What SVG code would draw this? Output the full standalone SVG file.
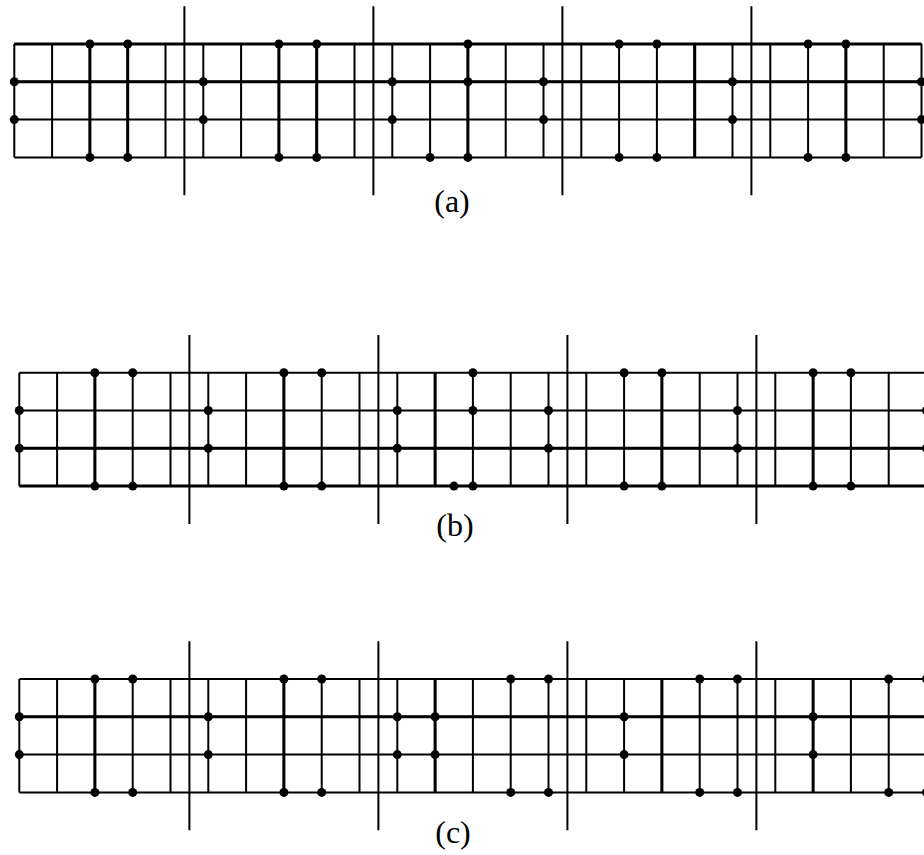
<svg xmlns="http://www.w3.org/2000/svg" width="924" height="855" viewBox="0 0 924 855">
<style>
.ln{stroke:#000;stroke-width:2;fill:none;stroke-linecap:butt}
.tk{stroke:#000;stroke-width:3;fill:none}
.dot{fill:#000}
.lbl{font-family:"Liberation Serif","DejaVu Serif",serif;font-size:32px;fill:#000;text-anchor:middle}
</style>
<defs>
<g id="grid">
<line class="ln" x1="0" y1="0" x2="907.2" y2="0"/>
<line class="ln" x1="0" y1="37.8" x2="907.2" y2="37.8"/>
<line class="ln" x1="0" y1="75.6" x2="907.2" y2="75.6"/>
<line class="ln" x1="0" y1="113.4" x2="907.2" y2="113.4"/>
<path class="ln" d="M0,0V113.4M37.8,0V113.4M75.6,0V113.4M113.4,0V113.4M151.2,0V113.4M189,0V113.4M226.8,0V113.4M264.6,0V113.4M302.4,0V113.4M340.2,0V113.4M378,0V113.4M415.8,0V113.4M453.6,0V113.4M491.4,0V113.4M529.2,0V113.4M567,0V113.4M604.8,0V113.4M642.6,0V113.4M680.4,0V113.4M718.2,0V113.4M756,0V113.4M793.8,0V113.4M831.6,0V113.4M869.4,0V113.4M907.2,0V113.4"/>
<path class="ln" d="M170.1,-37.8V151.2M359.1,-37.8V151.2M548.1,-37.8V151.2M737.1,-37.8V151.2"/>
</g>
</defs>

<!-- Panel (a) -->
<g id="panel-a" transform="translate(14.3,44)">
<use href="#grid"/>
<g id="a-connectors">
<path class="tk" d="M0,0H907.2M0,37.8H907.2"/>
<path class="tk" d="M75.6,0V113.4M113.4,0V113.4M264.6,0V113.4M302.4,0V113.4M453.6,0V113.4M680.4,0V113.4M831.6,0V113.4"/>
</g>
<g id="a-nodes">
<g id="a-s0"><circle class="dot" cx="0" cy="37.8" r="4.5"/><circle class="dot" cx="0" cy="75.6" r="4.5"/><circle class="dot" cx="75.6" cy="0" r="4.5"/><circle class="dot" cx="75.6" cy="113.4" r="4.5"/><circle class="dot" cx="113.4" cy="0" r="4.5"/><circle class="dot" cx="113.4" cy="113.4" r="4.5"/></g>
<g id="a-s1"><circle class="dot" cx="189" cy="37.8" r="4.5"/><circle class="dot" cx="189" cy="75.6" r="4.5"/><circle class="dot" cx="264.6" cy="0" r="4.5"/><circle class="dot" cx="264.6" cy="113.4" r="4.5"/><circle class="dot" cx="302.4" cy="0" r="4.5"/><circle class="dot" cx="302.4" cy="113.4" r="4.5"/></g>
<g id="a-s2"><circle class="dot" cx="378" cy="37.8" r="4.5"/><circle class="dot" cx="378" cy="75.6" r="4.5"/><circle class="dot" cx="415.8" cy="113.4" r="4.5"/><circle class="dot" cx="453.6" cy="0" r="4.5"/><circle class="dot" cx="453.6" cy="37.8" r="4.5"/><circle class="dot" cx="453.6" cy="113.4" r="4.5"/><circle class="dot" cx="529.2" cy="37.8" r="4.5"/><circle class="dot" cx="529.2" cy="75.6" r="4.5"/></g>
<g id="a-s3"><circle class="dot" cx="604.8" cy="0" r="4.5"/><circle class="dot" cx="604.8" cy="113.4" r="4.5"/><circle class="dot" cx="642.6" cy="0" r="4.5"/><circle class="dot" cx="642.6" cy="113.4" r="4.5"/><circle class="dot" cx="718.2" cy="37.8" r="4.5"/><circle class="dot" cx="718.2" cy="75.6" r="4.5"/></g>
<g id="a-s4"><circle class="dot" cx="793.8" cy="0" r="4.5"/><circle class="dot" cx="793.8" cy="113.4" r="4.5"/><circle class="dot" cx="831.6" cy="0" r="4.5"/><circle class="dot" cx="831.6" cy="113.4" r="4.5"/><circle class="dot" cx="907.2" cy="37.8" r="4.5"/><circle class="dot" cx="907.2" cy="75.6" r="4.5"/></g>
</g>
</g>
<text id="label-a" class="lbl" x="452" y="212">(a)</text>

<!-- Panel (b) -->
<g id="panel-b" transform="translate(19.3,372.7)">
<use href="#grid"/>
<g id="b-connectors">
<path class="tk" d="M0,75.6H907.2M0,113.4H907.2"/>
<path class="tk" d="M75.6,0V113.4M264.6,0V113.4M415.8,0V113.4M642.6,0V113.4M793.8,0V113.4"/>
</g>
<g id="b-nodes">
<g id="b-s0"><circle class="dot" cx="0" cy="37.8" r="4.5"/><circle class="dot" cx="0" cy="75.6" r="4.5"/><circle class="dot" cx="75.6" cy="0" r="4.5"/><circle class="dot" cx="75.6" cy="113.4" r="4.5"/><circle class="dot" cx="113.4" cy="0" r="4.5"/><circle class="dot" cx="113.4" cy="113.4" r="4.5"/></g>
<g id="b-s1"><circle class="dot" cx="189" cy="37.8" r="4.5"/><circle class="dot" cx="189" cy="75.6" r="4.5"/><circle class="dot" cx="264.6" cy="0" r="4.5"/><circle class="dot" cx="264.6" cy="113.4" r="4.5"/><circle class="dot" cx="302.4" cy="0" r="4.5"/><circle class="dot" cx="302.4" cy="113.4" r="4.5"/></g>
<g id="b-s2"><circle class="dot" cx="378" cy="37.8" r="4.5"/><circle class="dot" cx="378" cy="75.6" r="4.5"/><circle class="dot" cx="434.7" cy="113.4" r="4.5"/><circle class="dot" cx="453.6" cy="0" r="4.5"/><circle class="dot" cx="453.6" cy="37.8" r="4.5"/><circle class="dot" cx="453.6" cy="113.4" r="4.5"/><circle class="dot" cx="529.2" cy="37.8" r="4.5"/><circle class="dot" cx="529.2" cy="75.6" r="4.5"/></g>
<g id="b-s3"><circle class="dot" cx="604.8" cy="0" r="4.5"/><circle class="dot" cx="604.8" cy="113.4" r="4.5"/><circle class="dot" cx="642.6" cy="0" r="4.5"/><circle class="dot" cx="642.6" cy="113.4" r="4.5"/><circle class="dot" cx="718.2" cy="37.8" r="4.5"/><circle class="dot" cx="718.2" cy="75.6" r="4.5"/></g>
<g id="b-s4"><circle class="dot" cx="793.8" cy="0" r="4.5"/><circle class="dot" cx="793.8" cy="113.4" r="4.5"/><circle class="dot" cx="831.6" cy="0" r="4.5"/><circle class="dot" cx="831.6" cy="113.4" r="4.5"/><circle class="dot" cx="907.2" cy="37.8" r="4.5"/><circle class="dot" cx="907.2" cy="75.6" r="4.5"/></g>
</g>
</g>
<text id="label-b" class="lbl" x="455" y="536">(b)</text>

<!-- Panel (c) -->
<g id="panel-c" transform="translate(19.3,679)">
<use href="#grid"/>
<g id="c-connectors">
<path class="tk" d="M0,37.8H907.2"/>
<path class="tk" d="M75.6,0V113.4M264.6,0V113.4M415.8,0V113.4M642.6,0V113.4M793.8,0V113.4"/>
</g>
<g id="c-nodes">
<g id="c-s0"><circle class="dot" cx="0" cy="37.8" r="4.5"/><circle class="dot" cx="0" cy="75.6" r="4.5"/><circle class="dot" cx="75.6" cy="0" r="4.5"/><circle class="dot" cx="75.6" cy="113.4" r="4.5"/><circle class="dot" cx="113.4" cy="0" r="4.5"/><circle class="dot" cx="113.4" cy="113.4" r="4.5"/></g>
<g id="c-s1"><circle class="dot" cx="189" cy="37.8" r="4.5"/><circle class="dot" cx="189" cy="75.6" r="4.5"/><circle class="dot" cx="264.6" cy="0" r="4.5"/><circle class="dot" cx="264.6" cy="113.4" r="4.5"/><circle class="dot" cx="302.4" cy="0" r="4.5"/><circle class="dot" cx="302.4" cy="113.4" r="4.5"/></g>
<g id="c-s2"><circle class="dot" cx="378" cy="37.8" r="4.5"/><circle class="dot" cx="378" cy="75.6" r="4.5"/><circle class="dot" cx="415.8" cy="37.8" r="4.5"/><circle class="dot" cx="415.8" cy="75.6" r="4.5"/><circle class="dot" cx="491.4" cy="0" r="4.5"/><circle class="dot" cx="491.4" cy="113.4" r="4.5"/><circle class="dot" cx="529.2" cy="0" r="4.5"/><circle class="dot" cx="529.2" cy="113.4" r="4.5"/></g>
<g id="c-s3"><circle class="dot" cx="604.8" cy="37.8" r="4.5"/><circle class="dot" cx="604.8" cy="75.6" r="4.5"/><circle class="dot" cx="680.4" cy="0" r="4.5"/><circle class="dot" cx="680.4" cy="113.4" r="4.5"/><circle class="dot" cx="718.2" cy="0" r="4.5"/><circle class="dot" cx="718.2" cy="113.4" r="4.5"/></g>
<g id="c-s4"><circle class="dot" cx="793.8" cy="37.8" r="4.5"/><circle class="dot" cx="793.8" cy="75.6" r="4.5"/><circle class="dot" cx="869.4" cy="0" r="4.5"/><circle class="dot" cx="869.4" cy="113.4" r="4.5"/><circle class="dot" cx="907.2" cy="0" r="4.5"/><circle class="dot" cx="907.2" cy="113.4" r="4.5"/></g>
</g>
</g>
<text id="label-c" class="lbl" x="453" y="843">(c)</text>
</svg>
